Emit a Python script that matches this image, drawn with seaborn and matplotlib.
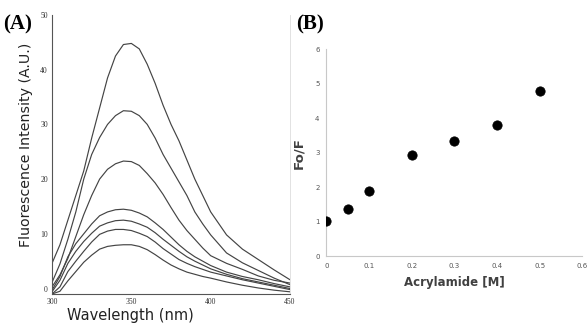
import matplotlib
matplotlib.use('Agg')
import matplotlib.pyplot as plt
import seaborn as sns
import numpy as np
import pandas as pd

# ---- panel A: emission spectra (one curve per acrylamide level) ----
wavelength = [300, 305, 310, 315, 320, 325, 330, 335, 340, 345, 350, 355,
              360, 365, 370, 375, 380, 385, 390, 395, 400, 410, 420, 430, 440, 450]
spec_1 = [4.6, 8.0, 12.5, 17.0, 21.5, 27.5, 33.0, 38.5, 42.5, 44.6, 44.8, 43.8,
          41.0, 37.5, 33.5, 30.0, 27.0, 23.5, 20.0, 17.0, 14.0, 9.8, 7.2, 5.3, 3.4, 1.6]
spec_2 = [1.1, 4.5, 9.0, 14.0, 20.0, 24.5, 27.6, 30.0, 31.6, 32.5, 32.4, 31.6,
          30.0, 27.5, 24.5, 22.0, 19.5, 17.0, 14.0, 11.8, 9.8, 6.5, 4.7, 3.3, 1.9, 0.7]
spec_3 = [0.3, 2.5, 5.5, 9.5, 13.5, 17.0, 20.0, 21.8, 22.8, 23.3, 23.2, 22.5,
          21.0, 19.3, 17.2, 14.8, 12.5, 10.6, 9.0, 7.4, 6.0, 4.6, 3.5, 2.3, 1.5, 1.0]
spec_4 = [-0.3, 2.2, 5.8, 8.2, 10.0, 11.8, 13.3, 14.0, 14.4, 14.5, 14.3, 13.8,
          13.1, 12.0, 10.8, 9.4, 8.0, 6.8, 5.8, 5.0, 4.2, 3.0, 2.2, 1.6, 0.9, 0.3]
spec_5 = [-0.6, 1.5, 4.6, 6.8, 8.6, 10.1, 11.4, 12.0, 12.4, 12.5, 12.3, 11.8,
          11.2, 10.2, 9.0, 7.9, 6.8, 5.8, 5.0, 4.3, 3.6, 2.6, 1.8, 1.2, 0.6, 0.0]
spec_6 = [-1.0, 0.3, 3.1, 5.0, 6.8, 8.5, 9.9, 10.5, 10.8, 10.8, 10.6, 10.1,
          9.5, 8.5, 7.3, 6.3, 5.3, 4.6, 4.0, 3.5, 3.0, 2.3, 1.6, 1.0, 0.4, -0.2]
spec_7 = [-1.0, -0.5, 1.4, 3.1, 4.8, 6.1, 7.2, 7.7, 7.9, 8.0, 8.0, 7.7,
          7.1, 6.2, 5.2, 4.3, 3.6, 3.0, 2.6, 2.2, 1.9, 1.2, 0.6, 0.1, -0.3, -0.6]
spectra = [spec_1, spec_2, spec_3, spec_4, spec_5, spec_6, spec_7]

# ---- panel B: Stern-Volmer plot ----
acrylamide = [0, 0.05, 0.1, 0.2, 0.3, 0.4, 0.5]
fo_f = [1.02, 1.37, 1.90, 2.92, 3.33, 3.80, 4.80]

sns.set_style('white')

fig = plt.figure(figsize=(5.87, 3.25), dpi=100)
fig.patch.set_facecolor('white')

# panel A
axA = fig.add_axes([0.0886, 0.0954, 0.4055, 0.8585])
df_spec = pd.DataFrame({
    'wl': wavelength * len(spectra),
    'val': [v for s in spectra for v in s],
    'curve': [i for i in range(len(spectra)) for _ in wavelength],
})
sns.lineplot(data=df_spec, x='wl', y='val', hue='curve', palette=['#444444'] * len(spectra),
             legend=False, linewidth=0.85, ax=axA, sort=False)
axA.set_xlim(300, 450)
axA.set_ylim(-1, 50)
axA.set_xticks([300, 350, 400, 450])
axA.set_yticks([0, 10, 20, 30, 40, 50])
serif = {'family': 'Liberation Serif', 'size': 5.5}
axA.set_xticklabels(['300', '350', '400', '450'], fontdict=serif)
axA.set_yticklabels(['0', '10', '20', '30', '40', '50'], fontdict=serif)
axA.tick_params(direction='in', length=2, width=0.6, pad=3, colors='#333333')
axA.spines['top'].set_visible(False)
axA.spines['right'].set_color('#dddddd')
axA.spines['right'].set_linewidth(0.6)
for side in ['left', 'bottom']:
    axA.spines[side].set_color('#555555')
    axA.spines[side].set_linewidth(0.8)
axA.set_xlabel('Wavelength (nm)', fontsize=10.5, family='DejaVu Sans', color='#222222')
axA.xaxis.set_label_coords(0.33, -0.05, transform=axA.transAxes)
axA.set_ylabel('Fluorescence Intensity (A.U.)', fontsize=10.2, family='DejaVu Sans', color='#222222')
axA.yaxis.set_label_coords(-0.08, 0.535, transform=axA.transAxes)
fig.text(0.006, 0.91, '(A)', fontsize=15, fontweight='bold', family='Liberation Serif', color='black')

# panel B
axB = fig.add_axes([0.5562, 0.2123, 0.4361, 0.636])
df_sv = pd.DataFrame({'conc': acrylamide, 'ratio': fo_f})
sns.scatterplot(data=df_sv, x='conc', y='ratio', color='black', s=45, edgecolor='black', ax=axB, zorder=3)
axB.set_xlim(0, 0.6)
axB.set_ylim(0, 6)
axB.set_xticks([0, 0.1, 0.2, 0.3, 0.4, 0.5, 0.6])
axB.set_xticklabels(['0', '0.1', '0.2', '0.3', '0.4', '0.5', '0.6'])
axB.set_yticks(range(7))
axB.tick_params(direction='out', length=2, width=0.6, pad=3, labelsize=5, colors='#bbbbbb', labelcolor='#555555')
for side in ['top', 'right']:
    axB.spines[side].set_visible(False)
for side in ['left', 'bottom']:
    axB.spines[side].set_color('#c8c8c8')
    axB.spines[side].set_linewidth(0.8)
axB.set_xlabel('Acrylamide [M]', fontsize=8.5, fontweight='bold', color='#404040', labelpad=5)
axB.set_ylabel('Fo/F', fontsize=9.5, fontweight='bold', color='#404040', labelpad=7)
fig.text(0.504, 0.91, '(B)', fontsize=15, fontweight='bold', family='Liberation Serif', color='black')

fig.savefig('out.png', dpi=100, facecolor='white')
